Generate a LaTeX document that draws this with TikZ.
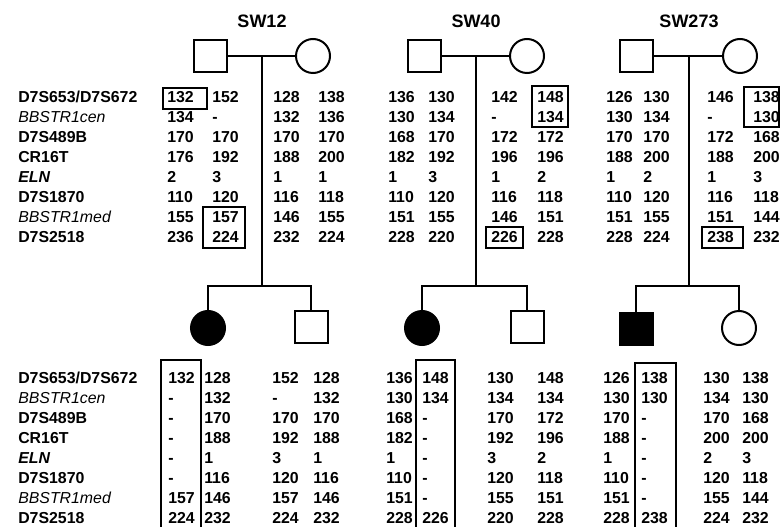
\documentclass[tikz,border=0pt]{standalone}
\usepackage{fontspec}
\setmainfont{Liberation Sans}

\begin{document}
\begin{tikzpicture}[
    x=0.75pt, y=-0.75pt,
    male/.style={rectangle, draw, line width=1.5pt, minimum width=24.75pt, minimum height=24.5pt, inner sep=0pt},
    female/.style={circle, draw, line width=1.5pt, minimum size=25.5pt, inner sep=0pt},
    affected/.style={fill=black},
    line/.style={line width=1.5pt},
    allele/.style={anchor=base west, inner sep=0pt, font=\bfseries\fontsize{11.9}{14}\selectfont},
    family/.style={anchor=base, inner sep=0pt, font=\bfseries\fontsize{13.5}{16}\selectfont},
    hapbox/.style={draw, line width=1.2pt}
]
\useasboundingbox (0,0) rectangle (780,527);

% Family names
\node[family] (sw12) at (262,28) {SW12};
\node[family] (sw40) at (476,28) {SW40};
\node[family] (sw273) at (689,28) {SW273};

% Parents
\node[male] (father12) at (210,56) {};
\node[female] (mother12) at (313,56) {};
\node[male] (father40) at (424,56) {};
\node[female] (mother40) at (527,56) {};
\node[male] (father273) at (636,56) {};
\node[female] (mother273) at (740,56) {};

% Children
\node[female, affected] (daughter12) at (208,328) {};
\node[male] (son12) at (311,327) {};
\node[female, affected] (daughter40) at (422,328) {};
\node[male] (son40) at (527,327) {};
\node[male, affected] (son273) at (636,329) {};
\node[female] (daughter273) at (739,328) {};

% Lines of descent
\foreach \fam/\x/\first/\second in {12/262/daughter12/son12, 40/476/daughter40/son40, 273/689/son273/daughter273} {
    \coordinate (mate\fam) at (\x,56);
    \coordinate (sib\fam) at (\x,286);
    \draw[line] (father\fam) -- (mother\fam);
    \draw[line] (mate\fam) -- (sib\fam);
    \draw[line] (\first) |- (sib\fam) -| (\second);
}

% Marker names
\foreach \y/\s in {103/19.86, 383/20.1} {
    \foreach \lab [count=\i] in {D7S653/D7S672, {\mdseries\itshape BBSTR1cen}, D7S489B, CR16T, {\itshape ELN}, D7S1870, {\mdseries\itshape BBSTR1med}, D7S2518}
        \node[allele] (marker\y-\i) at (18,{\y+\s*(\i-1)}) {\lab};
}

% Parental haplotypes
\foreach \nm/\x/\vals in {
    father12a/167/{132,134,170,176,2,110,155,236},
    father12b/212/{152,-,170,192,3,120,157,224},
    mother12a/273/{128,132,170,188,1,116,146,232},
    mother12b/318/{138,136,170,200,1,118,155,224},
    father40a/388/{136,130,168,182,1,110,151,228},
    father40b/428/{130,134,170,192,3,120,155,220},
    mother40a/491/{142,-,172,196,1,116,146,226},
    mother40b/537/{148,134,172,196,2,118,151,228},
    father273a/606/{126,130,170,188,1,110,151,228},
    father273b/643/{130,134,170,200,2,120,155,224},
    mother273a/707/{146,-,172,188,1,116,151,238},
    mother273b/753/{138,130,168,200,3,118,144,232}} {
    \foreach \v [count=\i] in \vals
        \node[allele] (\nm-\i) at (\x,{103+19.86*(\i-1)}) {\v};
}

% Haplotypes of the children
\foreach \nm/\x/\vals in {
    daughter12a/168/{132,-,-,-,-,-,157,224},
    daughter12b/204/{128,132,170,188,1,116,146,232},
    son12a/272/{152,-,170,192,3,120,157,224},
    son12b/313/{128,132,170,188,1,116,146,232},
    daughter40a/386/{136,130,168,182,1,110,151,228},
    daughter40b/422/{148,134,-,-,-,-,-,226},
    son40a/487/{130,134,170,192,3,120,155,220},
    son40b/537/{148,134,172,196,2,118,151,228},
    son273a/603/{126,130,170,188,1,110,151,228},
    son273b/641/{138,130,-,-,-,-,-,238},
    daughter273a/703/{130,134,170,200,2,120,155,224},
    daughter273b/742/{138,130,168,200,3,118,144,232}} {
    \foreach \v [count=\i] in \vals
        \node[allele] (\nm-\i) at (\x,{383+20.1*(\i-1)}) {\v};
}

% Boxed haplotypes
\draw[hapbox] (163,88) rectangle (207,109);
\draw[hapbox] (203,207) rectangle (245,248);
\draw[hapbox] (532,86) rectangle (568,127);
\draw[hapbox] (486,227) rectangle (523,248);
\draw[hapbox] (744,87) rectangle (779,127);
\draw[hapbox] (702,227) rectangle (743,248);
\draw[hapbox] (161,527) |- (201,360) -- (201,527);
\draw[hapbox] (416,527) |- (455,360) -- (455,527);
\draw[hapbox] (635,527) |- (676,363) -- (676,527);

\end{tikzpicture}
\end{document}
